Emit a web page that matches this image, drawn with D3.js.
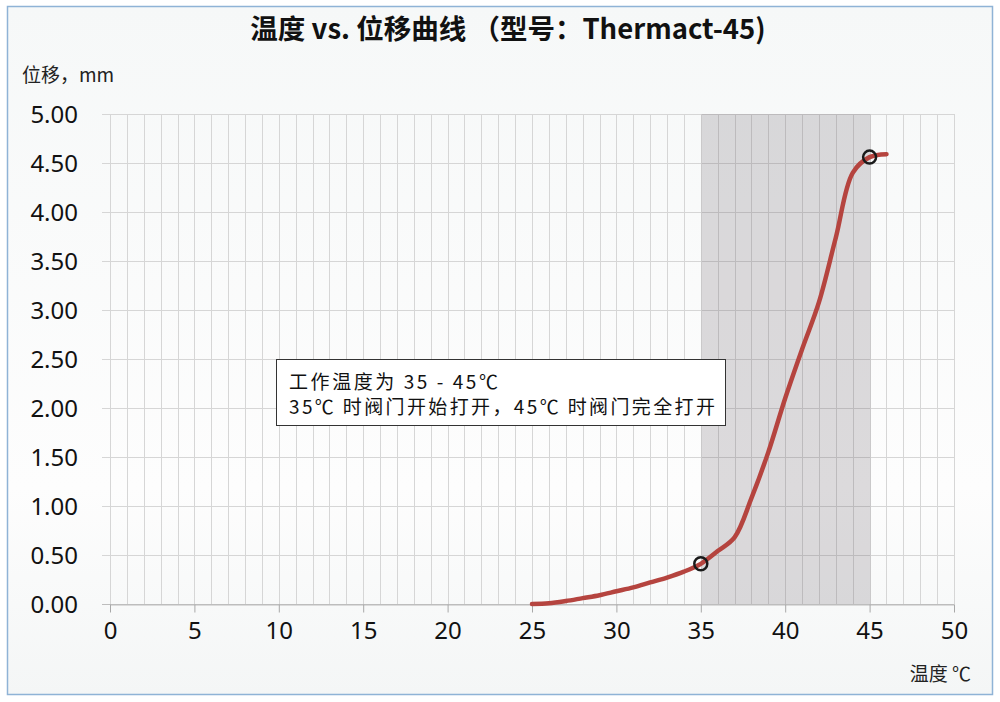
<!DOCTYPE html>
<html>
<head>
<meta charset="utf-8">
<script src="https://cdn.jsdelivr.net/npm/d3@7"></script>
<style>
  body { margin: 0; background: #fff; }
  svg { display: block; font-family: "Noto Sans CJK SC", "Noto Sans", sans-serif; }
</style>
</head>
<body>
<div id="chart"></div>
<script>
// Temperature (°C) vs. displacement (mm)
const temps = [25, 26, 27, 28, 29, 30, 31, 32, 33, 34, 35, 36, 37, 38, 39, 40, 41, 42, 43, 44, 45, 46];
const disp  = [0, 0.007, 0.03, 0.06, 0.09, 0.13, 0.17, 0.22, 0.27, 0.33, 0.41, 0.54, 0.68, 1.08, 1.55, 2.1, 2.6, 3.08, 3.74, 4.4, 4.56, 4.59];

// highlighted points (start / full open)
const markTemps = [35, 45];
const markDisp = [0.41, 4.56];

// working range
const bandStart = 35, bandEnd = 45;

const xTicks = [0, 5, 10, 15, 20, 25, 30, 35, 40, 45, 50];
const yTicks = [0, 0.5, 1, 1.5, 2, 2.5, 3, 3.5, 4, 4.5, 5];

const titleText = "温度 vs. 位移曲线 （型号：Thermact-45)";
const yLabel = "位移，mm";
const xLabel = "温度 ℃";
const noteLines = ["工作温度为 35 - 45℃", "35℃ 时阀门开始打开，45℃ 时阀门完全打开"];
const noteWidths = [209, 426];

const W = 1000, H = 702;
const plot = {left: 110, right: 954, top: 114, bottom: 604};

const svg = d3.select("#chart").append("svg")
    .attr("width", W)
    .attr("height", H);

// background gradient
const defs = svg.append("defs");
const grad = defs.append("linearGradient")
    .attr("id", "bg")
    .attr("x1", 0).attr("y1", 0).attr("x2", 0).attr("y2", 1);
grad.append("stop").attr("offset", "0%").attr("stop-color", "#f6f8f8");
grad.append("stop").attr("offset", "70%").attr("stop-color", "#fdfdfd");
grad.append("stop").attr("offset", "100%").attr("stop-color", "#f4f6f6");

svg.append("rect")
    .attr("x", 7.5).attr("y", 6.5)
    .attr("width", 985).attr("height", 688)
    .attr("fill", "url(#bg)")
    .attr("stroke", "#8fb3d6")
    .attr("stroke-width", 1.5);

const x = d3.scaleLinear().domain([0, 50]).range([plot.left, plot.right]);
const y = d3.scaleLinear().domain([0, 5]).range([plot.bottom, plot.top]);

// minor vertical gridlines every 1 °C
const g = svg.append("g");
g.selectAll(".vgrid")
    .data(d3.range(0, 51))
    .enter().append("line")
    .attr("x1", d => Math.round(x(d)) + 0.5).attr("x2", d => Math.round(x(d)) + 0.5)
    .attr("y1", plot.top).attr("y2", plot.bottom)
    .attr("stroke", "#d6d6d6")
    .attr("stroke-width", 1);

// horizontal gridlines (with small outward tick)
g.selectAll(".hgrid")
    .data(yTicks)
    .enter().append("line")
    .attr("x1", plot.left - 8).attr("x2", plot.right)
    .attr("y1", d => Math.round(y(d)) + 0.5).attr("y2", d => Math.round(y(d)) + 0.5)
    .attr("stroke", d => d === 0 ? "#bdbdbd" : "#d6d6d6")
    .attr("stroke-width", 1);

// working band shading (over gridlines so they darken)
svg.append("rect")
    .attr("x", Math.round(x(bandStart)) + 0.5)
    .attr("y", plot.top)
    .attr("width", Math.round(x(bandEnd)) - Math.round(x(bandStart)))
    .attr("height", plot.bottom - plot.top)
    .attr("fill", "#5a505a")
    .attr("fill-opacity", 0.2);

// x axis
const xAxis = svg.append("g")
    .attr("transform", `translate(0,${Math.round(y(0)) + 0.5})`)
    .call(d3.axisBottom(x).tickValues(xTicks).tickSize(8).tickSizeOuter(0).tickPadding(9));
xAxis.select(".domain").attr("stroke", "#bdbdbd");
xAxis.selectAll(".tick line").attr("stroke", "#a8a8a8");
xAxis.selectAll(".tick text")
    .attr("fill", "#111")
    .style("font-size", "24px")
    .style("font-family", "'Noto Sans', sans-serif");

// y tick labels
svg.append("g").selectAll(".ylab")
    .data(yTicks)
    .enter().append("text")
    .attr("x", 78)
    .attr("y", d => y(d))
    .attr("dy", "0.36em")
    .attr("text-anchor", "end")
    .attr("fill", "#111")
    .style("font-size", "24px")
    .style("font-family", "'Noto Sans', sans-serif")
    .text(d => d3.format(".2f")(d));

// curve
const line = d3.line()
    .x(d => x(d[0]))
    .y(d => y(d[1]))
    .curve(d3.curveCatmullRom.alpha(0.5));

svg.append("path")
    .datum(temps.map((t, i) => [t, disp[i]]))
    .attr("d", line)
    .attr("fill", "none")
    .attr("stroke", "#b5443f")
    .attr("stroke-width", 4.5)
    .attr("stroke-linecap", "round");

// markers
svg.selectAll(".mark")
    .data(markTemps.map((t, i) => [t, markDisp[i]]))
    .enter().append("circle")
    .attr("cx", d => x(d[0]))
    .attr("cy", d => y(d[1]))
    .attr("r", 6.5)
    .attr("fill", "none")
    .attr("stroke", "#1a1a1a")
    .attr("stroke-width", 2.5);

// annotation box
svg.append("rect")
    .attr("x", 276.5).attr("y", 359.5)
    .attr("width", 449).attr("height", 66)
    .attr("fill", "#fff")
    .attr("stroke", "#333")
    .attr("stroke-width", 1);
svg.selectAll(".note")
    .data(noteLines)
    .enter().append("text")
    .attr("x", 289)
    .attr("y", (d, i) => 389 + i * 25)
    .attr("fill", "#111")
    .attr("textLength", (d, i) => noteWidths[i])
    .attr("lengthAdjust", "spacing")
    .style("font-size", "19px")
    .text(d => d);

// title
svg.append("text")
    .attr("x", 508)
    .attr("y", 39)
    .attr("text-anchor", "middle")
    .attr("fill", "#111")
    .style("font-size", "27.5px")
    .style("font-weight", "bold")
    .text(titleText);

// axis labels
svg.append("text")
    .attr("x", 22).attr("y", 82)
    .attr("fill", "#222")
    .style("font-size", "19px")
    .text(yLabel);

svg.append("text")
    .attr("x", 971).attr("y", 681)
    .attr("text-anchor", "end")
    .attr("fill", "#222")
    .style("font-size", "19px")
    .text(xLabel);
</script>
</body>
</html>
